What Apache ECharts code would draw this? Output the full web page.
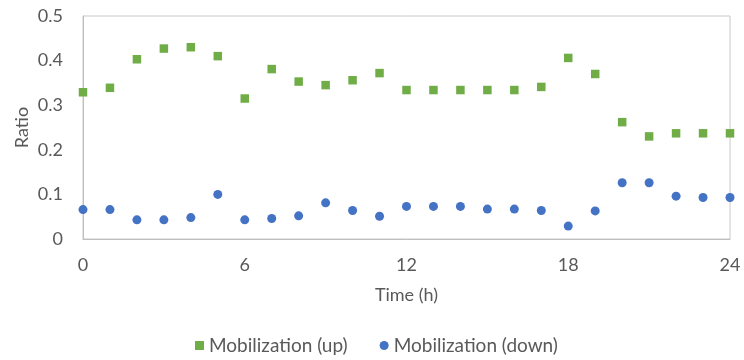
<!DOCTYPE html>
<html><head><meta charset="utf-8">
<script src="https://cdn.jsdelivr.net/npm/echarts@6/dist/echarts.min.js"></script>
<style>html,body{margin:0;padding:0;background:#fff}#c{width:744px;height:360px}</style>
</head><body><div id="c"></div>
<script>
var hours = [0,1,2,3,4,5,6,7,8,9,10,11,12,13,14,15,16,17,18,19,20,21,22,23,24];
var upValues = [0.329,0.339,0.403,0.427,0.430,0.410,0.315,0.381,0.353,0.345,0.356,0.372,0.334,0.334,0.334,0.334,0.334,0.341,0.406,0.370,0.262,0.230,0.237,0.237,0.237];
var downValues = [0.066,0.066,0.043,0.043,0.048,0.100,0.043,0.046,0.052,0.081,0.064,0.051,0.073,0.073,0.073,0.067,0.067,0.064,0.029,0.063,0.126,0.126,0.096,0.093,0.093];
var seriesNames = ['Mobilization (up)','Mobilization (down)'];
var xTitle = 'Time (h)', yTitle = 'Ratio';

function pairs(vals){ return hours.map(function(h,i){ return [h, vals[i]]; }); }
var font = 'Lato';
var txt = '#595959';
var fs = 18;
var chart = echarts.init(document.getElementById('c'));
chart.setOption({
  animation:false,
  textStyle:{fontFamily:font},
  grid:{left:83,right:14,top:16,bottom:121,show:true,borderColor:'#c8c8c8',borderWidth:1},
  legend:{bottom:0,left:190,itemGap:32,itemWidth:9,itemHeight:9,itemTextGap:7,
    textStyle:{color:txt,fontSize:19,fontFamily:font},
    data:[{name:seriesNames[0],icon:'rect'},{name:seriesNames[1],icon:'circle'}]},
  xAxis:{type:'value',min:0,max:24,interval:6,
    name:xTitle,nameLocation:'middle',nameGap:47,nameTextStyle:{color:txt,fontSize:fs,fontFamily:font},
    axisLine:{show:true,lineStyle:{color:'#bfbfbf'}},axisTick:{show:false},splitLine:{show:false},
    axisLabel:{color:txt,fontSize:fs,margin:17}},
  yAxis:{type:'value',min:0,max:0.5,interval:0.1,
    name:yTitle,nameLocation:'middle',nameGap:52,nameMoveOverlap:false,nameTextStyle:{color:txt,fontSize:fs,fontFamily:font},
    axisLine:{show:true,lineStyle:{color:'#bfbfbf'}},axisTick:{show:false},splitLine:{show:false},
    axisLabel:{color:txt,fontSize:fs,margin:20}},
  series:[
    {name:seriesNames[0],type:'scatter',symbol:'rect',symbolSize:8.5,itemStyle:{color:'#70AD47',opacity:1},data:pairs(upValues)},
    {name:seriesNames[1],type:'scatter',symbol:'circle',symbolSize:9,itemStyle:{color:'#4472C4',opacity:1},data:pairs(downValues)}
  ]
});
</script></body></html>
